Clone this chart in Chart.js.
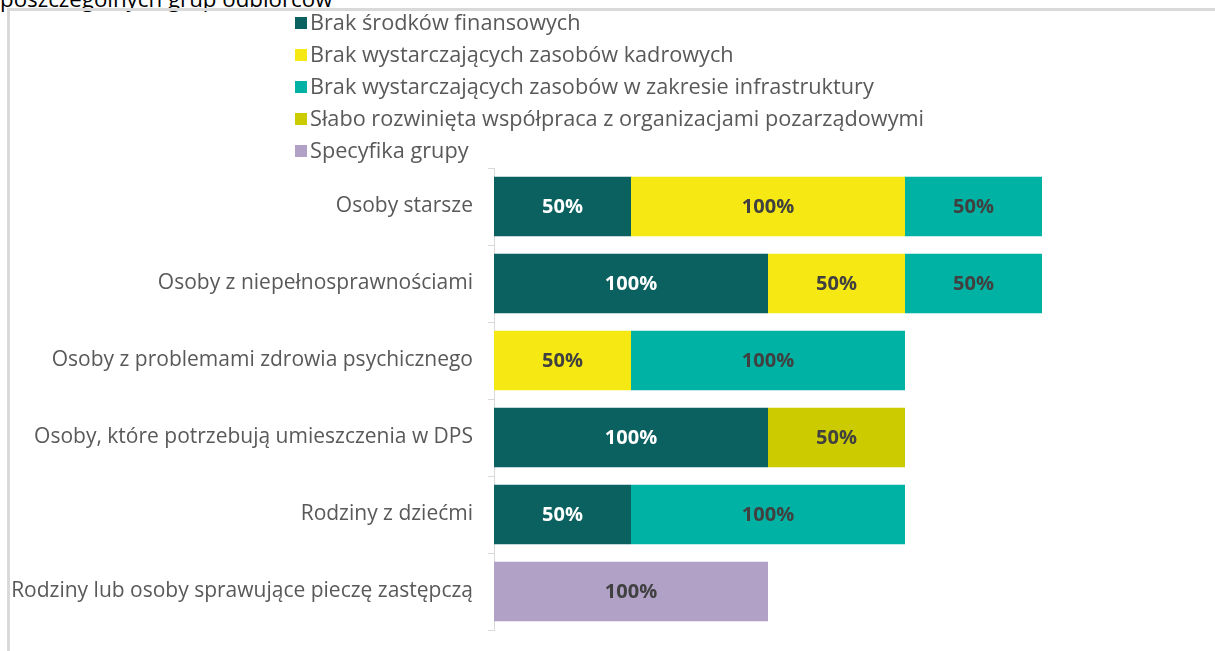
<!DOCTYPE html>
<html lang="pl">
<head>
<meta charset="utf-8">
<script src="https://cdn.jsdelivr.net/npm/chart.js@4"></script>
<style>
  html, body { margin: 0; padding: 0; background: #fff; overflow: hidden; }
  body { width: 1215px; height: 651px; position: relative; font-family: "Open Sans", sans-serif; }
  #heading { position: absolute; left: 0; top: -17px; font-size: 22.3px; color: #000; white-space: nowrap; }
  #frame { position: absolute; left: 7px; top: 8px; width: 1300px; height: 700px;
           border-top: 3px solid #d9d9d9; border-left: 3px solid #d9d9d9; }
  #chart-wrap { position: absolute; left: 10px; top: 11px; width: 1205px; height: 640px; }
  #legend { position: absolute; left: 295px; top: 8px; font-size: 21.7px; color: #595959; }
  #legend div { height: 32px; line-height: 28px; white-space: nowrap; }
  #legend span.box { display: inline-block; width: 12px; height: 12px; margin-right: 3px; vertical-align: 1px; }
</style>
</head>
<body>
<div id="heading">poszczególnych grup odbiorców</div>
<div id="frame"></div>
<div id="chart-wrap"><canvas id="barriers"></canvas></div>
<div id="legend"></div>
<script>
// categories (top to bottom)
const groups = [
  "Osoby starsze",
  "Osoby z niepełnosprawnościami",
  "Osoby z problemami zdrowia psychicznego",
  "Osoby, które potrzebują umieszczenia w DPS",
  "Rodziny z dziećmi",
  "Rodziny lub osoby sprawujące pieczę zastępczą"
];

// series values in %, null where a group has no answer
const brakSrodkow      = [50, 100, null, 100, 50, null];
const brakKadr         = [100, 50, 50, null, null, null];
const brakInfrastr     = [50, 50, 100, null, 100, null];
const slabaWspolpraca  = [null, null, null, 50, null, null];
const specyfikaGrupy   = [null, null, null, null, null, 100];

const seriesNames = [
  "Brak środków finansowych",
  "Brak wystarczających zasobów kadrowych",
  "Brak wystarczających zasobów w zakresie infrastruktury",
  "Słabo rozwinięta współpraca z organizacjami pozarządowymi",
  "Specyfika grupy"
];

const colors = ["#0b6160", "#f6e913", "#00b2a3", "#cccb00", "#b1a1c7"];
const labelColors = ["#ffffff", "#404040", "#404040", "#404040", "#404040"];

const seriesData = [brakSrodkow, brakKadr, brakInfrastr, slabaWspolpraca, specyfikaGrupy];

// writes the value in the middle of every segment
const barValues = {
  id: "barValues",
  afterDatasetsDraw(chart) {
    const ctx = chart.ctx;
    ctx.save();
    ctx.font = "bold 20px 'Open Sans', sans-serif";
    ctx.textAlign = "center";
    ctx.textBaseline = "middle";
    chart.data.datasets.forEach((ds, i) => {
      const meta = chart.getDatasetMeta(i);
      meta.data.forEach((bar, j) => {
        const v = ds.data[j];
        if (v == null) return;
        const { x, y, base } = bar.getProps(["x", "y", "base"], true);
        ctx.fillStyle = labelColors[i];
        ctx.fillText(v + "%", (x + base) / 2, y + 1);
      });
    });
    ctx.restore();
  }
};

const chart = new Chart(document.getElementById("barriers"), {
  type: "bar",
  data: {
    labels: groups,
    datasets: seriesData.map((d, i) => ({
      label: seriesNames[i],
      data: d,
      backgroundColor: colors[i],
      borderWidth: 0,
      barPercentage: 0.77,
      categoryPercentage: 1
    }))
  },
  options: {
    indexAxis: "y",
    responsive: true,
    maintainAspectRatio: false,
    animation: false,
    layout: { padding: { top: 157, bottom: 21, right: 36, left: 0 } },
    plugins: {
      legend: { display: false },
      tooltip: { enabled: false }
    },
    scales: {
      x: { stacked: true, min: 0, max: 250, display: false },
      y: {
        stacked: true,
        grid: { drawOnChartArea: false, drawTicks: true, tickLength: 6, color: "#d9d9d9", offset: true },
        border: { color: "#d9d9d9", width: 1 },
        ticks: { color: "#595959", padding: 15, font: { family: "'Open Sans', sans-serif", size: 21 } },
        afterFit(scale) {
          scale.width = 484;
          // labels sit inside the bands, so no extra room above/below
          scale.paddingTop = 0;
          scale.paddingBottom = 0;
        }
      }
    }
  },
  plugins: [barValues]
});

// legend as a vertical list, built from the datasets
const legend = document.getElementById("legend");
chart.data.datasets.forEach(ds => {
  const row = document.createElement("div");
  const box = document.createElement("span");
  box.className = "box";
  box.style.background = ds.backgroundColor;
  row.appendChild(box);
  row.appendChild(document.createTextNode(ds.label));
  legend.appendChild(row);
});
</script>
</body>
</html>
